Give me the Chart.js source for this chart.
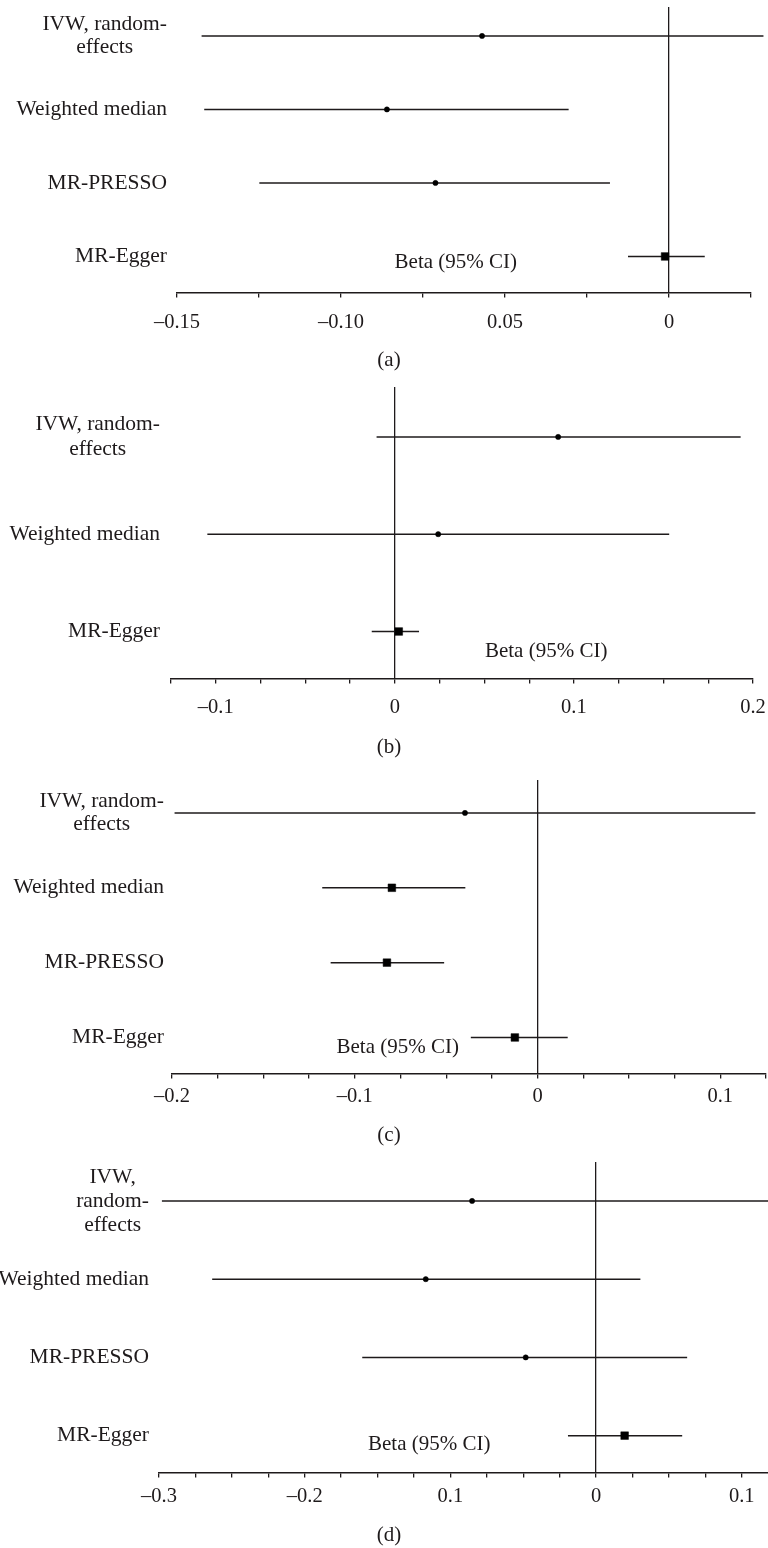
<!DOCTYPE html>
<html>
<head>
<meta charset="utf-8">
<script src="https://cdn.jsdelivr.net/npm/chart.js@4.4.0/dist/chart.umd.min.js"></script>
<style>
  html, body { margin: 0; padding: 0; background: #ffffff; }
  #wrap { position: relative; width: 768px; height: 1548px; overflow: hidden; background: #fff; }
  canvas { position: absolute; left: 0; }
</style>
</head>
<body>
<div id="wrap">
  <canvas id="cA" width="768" height="380" style="top:0px"></canvas>
  <canvas id="cB" width="768" height="400" style="top:380px"></canvas>
  <canvas id="cC" width="768" height="380" style="top:775px"></canvas>
  <canvas id="cD" width="768" height="393" style="top:1155px"></canvas>
</div>
<script>
// ---------------- DATA ----------------
// Panel (a)
const methodsA = [['IVW, random-', 'effects'], ['Weighted median'], ['MR-PRESSO'], ['MR-Egger']];
const betaA = [-0.0570, -0.0860, -0.0712, -0.0012];
const lowerA = [-0.1425, -0.1417, -0.1249, -0.0125];
const upperA = [0.0288, -0.0306, -0.0180, 0.0109];
const tickValuesA = [-0.15, -0.125, -0.10, -0.075, -0.05, -0.025, 0, 0.025];
const tickLabelsA = ['\u20130.15', '', '\u20130.10', '', '0.05', '', '0', ''];

// Panel (b)
const methodsB = [['IVW, random-', 'effects'], ['Weighted median'], ['MR-Egger']];
const betaB = [0.0912, 0.0242, 0.0022];
const lowerB = [-0.0102, -0.1047, -0.0129];
const upperB = [0.1931, 0.1532, 0.0135];
const tickValuesB = [-0.125, -0.1, -0.075, -0.05, -0.025, 0, 0.025, 0.05, 0.075, 0.1, 0.125, 0.15, 0.175, 0.2];
const tickLabelsB = ['', '\u20130.1', '', '', '', '0', '', '', '', '0.1', '', '', '', '0.2'];

// Panel (c)
const methodsC = [['IVW, random-', 'effects'], ['Weighted median'], ['MR-PRESSO'], ['MR-Egger']];
const betaC = [-0.0397, -0.0797, -0.0824, -0.0124];
const lowerC = [-0.1986, -0.1178, -0.1132, -0.0365];
const upperC = [0.1192, -0.0395, -0.0511, 0.0165];
const tickValuesC = [-0.2, -0.175, -0.15, -0.125, -0.1, -0.075, -0.05, -0.025, 0, 0.025, 0.05, 0.075, 0.1, 0.125];
const tickLabelsC = ['\u20130.2', '', '', '', '\u20130.1', '', '', '', '0', '', '', '', '0.1', ''];

// Panel (d)
const methodsD = [['IVW,', 'random-', 'effects'], ['Weighted median'], ['MR-PRESSO'], ['MR-Egger']];
const betaD = [-0.0851, -0.1169, -0.0483, 0.0196];
const lowerD = [-0.2980, -0.2635, -0.1605, -0.0193];
const upperD = [0.1300, 0.0304, 0.0625, 0.0591];
const tickValuesD = [-0.3, -0.275, -0.25, -0.225, -0.2, -0.175, -0.15, -0.125, -0.1, -0.075, -0.05, -0.025, 0, 0.025, 0.05, 0.075, 0.1];
const tickLabelsD = ['\u20130.3', '', '', '', '\u20130.2', '', '', '', '0.1', '', '', '', '0', '', '', '', '0.1'];

// ---------------- STYLE / LAYOUT ----------------
const INK = '#1e1a1b';
const FONT = '"Liberation Serif", "Times New Roman", serif';
Chart.defaults.font.family = FONT;
Chart.defaults.font.size = 20;
Chart.defaults.color = INK;

const panelText = {
  id: 'panelText',
  afterDraw(chart, args, o) {
    const ctx = chart.ctx, xs = chart.scales.x, ys = chart.scales.y;
    ctx.save();
    ctx.fillStyle = INK;
    ctx.textBaseline = 'middle';
    ctx.textAlign = 'center';
    ctx.font = o.size + 'px ' + FONT;
    o.rows.forEach((lines, i) => {
      const yc = ys.getPixelForValue(i);
      const bw = Math.max(...lines.map(l => ctx.measureText(l).width));
      const cx = o.labelRight - bw / 2;
      lines.forEach((l, j) => {
        ctx.fillText(l, cx, yc + (j - (lines.length - 1) / 2) * o.lineGap);
      });
    });
    ctx.font = o.betaSize + 'px ' + FONT;
    ctx.fillText('Beta (95% CI)', xs.getPixelForValue(o.betaAt[0]), ys.getPixelForValue(o.betaAt[1]));
    ctx.font = '21px ' + FONT;
    ctx.fillText(o.caption, o.captionX, o.captionY);
    ctx.restore();
  }
};

function makePanel(id, P) {
  const datasets = [];
  datasets.push({
    label: 'estimate',
    data: P.beta.map((b, i) => ({ x: b, y: i })),
    pointStyle: P.beta.map((b, i) => P.squares.includes(i) ? 'rect' : 'circle'),
    pointRadius: P.beta.map((b, i) => P.squares.includes(i) ? 5.4 : 2.6),
    backgroundColor: '#000',
    borderColor: '#000',
    borderWidth: 0.5,
    showLine: false,
    order: 0,
    clip: false
  });
  P.lower.forEach((lo, i) => {
    datasets.push({
      label: 'ci' + i,
      data: [{ x: lo, y: i }, { x: P.upper[i], y: i }],
      showLine: true,
      borderColor: INK,
      borderWidth: 1.5,
      pointRadius: 0,
      order: 1,
      clip: false
    });
  });
  return new Chart(document.getElementById(id), {
    type: 'scatter',
    data: { datasets },
    options: {
      responsive: false,
      animation: false,
      devicePixelRatio: 1,
      layout: { padding: P.pad, autoPadding: false },
      plugins: {
        legend: { display: false },
        tooltip: { enabled: false },
        panelText: {
          rows: P.methods, labelRight: P.labelRight, lineGap: P.lineGap,
          size: 21.5, betaSize: 21, betaAt: P.betaAt, caption: P.caption, captionX: 389, captionY: P.captionY
        }
      },
      scales: {
        x: {
          type: 'linear',
          min: P.xmin, max: P.xmax,
          afterBuildTicks: (s) => { s.ticks = P.tickValues.map(v => ({ value: v })); },
          afterFit: (s) => { s.paddingRight = 0; s.paddingLeft = 0; },
          ticks: {
            autoSkip: false, maxRotation: 0, minRotation: 0,
            padding: P.tickPad,
            color: INK,
            font: { size: 20.5, family: FONT },
            callback: (v, i) => P.tickLabels[i]
          },
          grid: {
            drawOnChartArea: true,
            drawTicks: true,
            tickLength: 5,
            lineWidth: 1.3,
            tickColor: INK,
            tickWidth: 1.3,
            color: (c) => (c.tick && Math.abs(c.tick.value) < 1e-9) ? INK : 'rgba(0,0,0,0)'
          },
          border: { display: true, color: INK, width: 1.6 }
        },
        y: {
          type: 'linear', display: false, reverse: true,
          min: P.ymin, max: P.ymax
        }
      }
    },
    plugins: [panelText]
  });
}

makePanel('cA', {
  methods: methodsA, beta: betaA, lower: lowerA, upper: upperA,
  tickValues: tickValuesA, tickLabels: tickLabelsA, squares: [3],
  xmin: -0.15, xmax: 0.025, ymin: -0.394, ymax: 3.489,
  pad: { left: 177, right: 17, top: 7, bottom: 32 }, tickPad: 13,
  labelRight: 167, lineGap: 23, betaAt: [-0.065, 3.08], caption: '(a)', captionY: 360
});
makePanel('cB', {
  methods: methodsB, beta: betaB, lower: lowerB, upper: upperB,
  tickValues: tickValuesB, tickLabels: tickLabelsB, squares: [2],
  xmin: -0.125, xmax: 0.2, ymin: -0.513, ymax: 2.482,
  pad: { left: 171, right: 15, top: 7, bottom: 48 }, tickPad: 12,
  labelRight: 160, lineGap: 25, betaAt: [0.0845, 2.205], caption: '(b)', captionY: 367
});
makePanel('cC', {
  methods: methodsC, beta: betaC, lower: lowerC, upper: upperC,
  tickValues: tickValuesC, tickLabels: tickLabelsC, squares: [1, 2, 3],
  xmin: -0.2, xmax: 0.125, ymin: -0.44, ymax: 3.48,
  pad: { left: 172, right: 2, top: 5, bottom: 40 }, tickPad: 6,
  labelRight: 164, lineGap: 23, betaAt: [-0.0765, 3.13], caption: '(c)', captionY: 360
});
makePanel('cD', {
  methods: methodsD, beta: betaD, lower: lowerD, upper: upperD,
  tickValues: tickValuesD, tickLabels: tickLabelsD, squares: [3],
  xmin: -0.3, xmax: 0.118, ymin: -0.498, ymax: 3.47,
  pad: { left: 159, right: 0, top: 7, bottom: 32 }, tickPad: 7,
  labelRight: 149, lineGap: 24, betaAt: [-0.1145, 3.116], caption: '(d)', captionY: 380
});
</script>
</body>
</html>
